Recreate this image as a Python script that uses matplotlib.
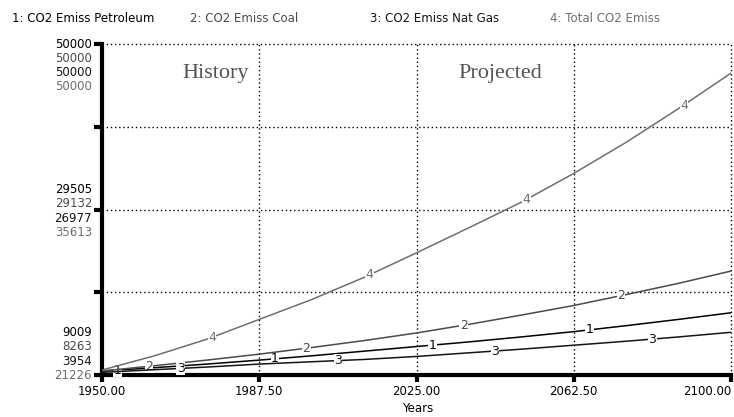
import numpy as np
import matplotlib
matplotlib.use("Agg")
import matplotlib.pyplot as plt

# data (each series has its own scale, STELLA style)
years = [1950, 1962.5, 1975, 1987.5, 2000, 2012.5, 2025, 2037.5, 2050, 2062.5, 2075, 2087.5, 2100]
petroleum = [9501, 9911, 10362, 10854, 11386, 11960, 12534, 13108, 13723, 14379, 15117, 15895, 16715]
coal = [8764, 9432, 10141, 10892, 11727, 12604, 13563, 14649, 15817, 17028, 18405, 19824, 21368]
nat_gas = [4322, 4691, 5059, 5474, 5796, 6118, 6533, 7039, 7546, 8098, 8651, 9249, 9894]
total = [21658, 22895, 24333, 26060, 27786, 29714, 31844, 34030, 36246, 38749, 41454, 44389, 47468]

names = ["1: CO2 Emiss Petroleum", "2: CO2 Emiss Coal", "3: CO2 Emiss Nat Gas", "4: Total CO2 Emiss"]
scale_min = [9009, 8263, 3954, 21226]
scale_max = [50000, 50000, 50000, 50000]
top_labels = ["50000", "50000", "50000", "50000"]
mid_labels = ["29505", "29132", "26977", "35613"]
bottom_labels = ["9009", "8263", "3954", "21226"]
x_ticks = [1950, 1987.5, 2025, 2062.5, 2100]

series = [petroleum, coal, nat_gas, total]
colors = ["#000000", "#4a4a4a", "#151515", "#6e6e6e"]
label_frac = [0.1, 0.3, 0.5, 0.7]

fig = plt.figure(figsize=(7.34, 4.17), dpi=100)
plt.rcParams['font.family'] = ['DejaVu Sans']
pos = [102 / 734, 42 / 417, 629 / 734, 331 / 417]
ax = fig.add_axes(pos)
ax.set_xlim(1950, 2100)
ax.set_ylim(0, 1)

# dotted grid
for g in [0.25, 0.5, 0.75, 1.0]:
    ax.axhline(g, color="black", lw=1, ls=(0, (1, 2)), zorder=1, clip_on=False)
for g in x_ticks[1:]:
    ax.axvline(g, color="black", lw=1, ls=(0, (1, 2)), zorder=1, clip_on=False)

for s in ["top", "right"]:
    ax.spines[s].set_visible(False)
for s in ["left", "bottom"]:
    ax.spines[s].set_linewidth(3)
    ax.spines[s].set_zorder(5)
ax.set_yticks([0, 0.25, 0.5, 0.75, 1.0])
ax.set_yticklabels([])
ax.tick_params(axis="y", length=6, width=3, direction="out")
ax.set_xticks(x_ticks)
ax.set_xticklabels(["%.2f" % x for x in x_ticks])
ax.tick_params(axis="x", length=5, width=3, direction="out", labelsize=8.5, pad=2)
ax.get_xticklabels()[-1].set_horizontalalignment("right")
ax.get_xticklabels()[-1].set_x(2100.5)

# one overlay axes per series, each with its own y scale
for i, vals in enumerate(series):
    a = fig.add_axes(pos, sharex=ax)
    a.set_axis_off()
    a.patch.set_visible(False)
    a.set_ylim(scale_min[i], scale_max[i])
    a.plot(years, vals, color=colors[i], lw=1.1, zorder=3)
    for seg in x_ticks[:-1]:
        xl = seg + label_frac[i] * 37.5
        yl = np.interp(xl, years, vals)
        a.text(xl, yl, str(i + 1), color=colors[i], fontsize=9, ha="center", va="center",
               bbox=dict(facecolor="white", edgecolor="none", pad=0.3), zorder=4)

# stacked scale labels
for i in range(4):
    ax.annotate(top_labels[i], xy=(0, 1), xycoords="axes fraction", xytext=(-10, -14.2 * i),
                textcoords="offset pixels", ha="right", va="center", fontsize=8.5, color=colors[i])
    ax.annotate(mid_labels[i], xy=(0, 0.5), xycoords="axes fraction", xytext=(-10, 20 - 14.3 * i),
                textcoords="offset pixels", ha="right", va="center", fontsize=8.5, color=colors[i])
    ax.annotate(bottom_labels[i], xy=(0, 0), xycoords="axes fraction", xytext=(-10, 43 - 14.6 * i),
                textcoords="offset pixels", ha="right", va="center", fontsize=8.5, color=colors[i])

fig.text(418 / 734, 1 - 409 / 417, "Years", ha="center", va="center", fontsize=8.5)

legend_x = [12, 190, 370, 550]
for i in range(4):
    fig.text(legend_x[i] / 734, 1 - 18 / 417, names[i], ha="left", va="center", fontsize=8.5, color=colors[i])

ax.text(0.181, 0.912, "History", transform=ax.transAxes, ha="center", va="center",
        fontsize=16, family="Liberation Serif", color="#555555")
ax.text(0.633, 0.912, "Projected", transform=ax.transAxes, ha="center", va="center",
        fontsize=16, family="Liberation Serif", color="#555555")

fig.savefig("out.png", dpi=100)
